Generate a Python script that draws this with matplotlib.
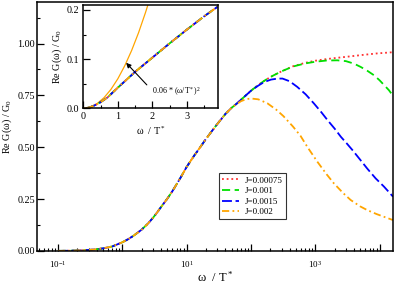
import matplotlib
matplotlib.use("Agg")
import matplotlib.pyplot as plt
from matplotlib.ticker import FixedLocator, FuncFormatter, LogLocator, MultipleLocator, NullFormatter
import numpy as np

plt.rcParams['font.family'] = ['Liberation Serif', 'DejaVu Serif']
plt.rcParams['mathtext.fontset'] = 'custom'
plt.rcParams['mathtext.rm'] = 'Liberation Serif'
plt.rcParams['mathtext.it'] = 'Liberation Serif:italic'
plt.rcParams['mathtext.default'] = 'rm'

# ---------------- data ----------------
w_common = [0.1, 0.15, 0.2, 0.3, 0.4, 0.5, 0.7, 1.0, 1.25, 1.5, 2.0, 2.5, 3.0, 3.5,
            4.0, 5.0, 6.0, 8.0, 10, 13, 16, 20, 25, 30, 40, 50]
g_common = [0.0006, 0.0013, 0.0024, 0.005, 0.0085, 0.0125, 0.022, 0.042, 0.058, 0.074,
            0.103, 0.132, 0.16, 0.187, 0.212, 0.252, 0.288, 0.352, 0.405, 0.458, 0.497,
            0.54, 0.58, 0.612, 0.66, 0.69]

w_red = [60, 80, 100, 130, 170, 220, 300, 450, 700, 1000, 1500, 2200, 3500, 5500, 9000, 16200]
g_red = [0.71, 0.745, 0.772, 0.80, 0.825, 0.845, 0.866, 0.89, 0.907, 0.917, 0.925, 0.931,
         0.938, 0.945, 0.952, 0.958]

w_green = [60, 80, 100, 130, 170, 220, 300, 450, 700, 1000, 1500, 2200, 3000, 4000, 5100,
           6500, 8200, 10000, 12000, 14000, 16200]
g_green = [0.71, 0.745, 0.772, 0.80, 0.825, 0.845, 0.866, 0.889, 0.904, 0.912, 0.918, 0.919,
           0.915, 0.903, 0.887, 0.868, 0.847, 0.823, 0.797, 0.775, 0.748]

w_blue = [60, 80, 100, 130, 160, 205, 260, 310, 400, 525, 710, 955, 1250, 1550, 2000, 2510,
          3100, 3800, 5000, 6450, 8700, 11750, 16200]
g_blue = [0.71, 0.745, 0.772, 0.797, 0.814, 0.826, 0.831, 0.831, 0.818, 0.791, 0.755, 0.711,
          0.668, 0.631, 0.59, 0.55, 0.518, 0.486, 0.44, 0.397, 0.35, 0.31, 0.262]

w_orange = [55, 70, 85, 100, 130, 180, 250, 320, 450, 590, 760, 1080, 1500, 1950, 2700,
            3550, 5000, 6450, 9000, 11700, 16200]
g_orange = [0.70, 0.722, 0.732, 0.735, 0.731, 0.712, 0.68, 0.65, 0.60, 0.555, 0.50, 0.43,
            0.37, 0.326, 0.28, 0.246, 0.215, 0.197, 0.178, 0.165, 0.149]

labels = ['J=0.00075', 'J=0.001', 'J=0.0015', 'J=0.002']

# low-frequency reference curve 0.06*(w/T*)^2
w_fit = [0.0, 0.2, 0.4, 0.6, 0.8, 1.0, 1.2, 1.4, 1.6, 1.8, 1.9]
g_fit = [0.0, 0.0024, 0.0096, 0.0216, 0.0384, 0.06, 0.0864, 0.1176, 0.1536, 0.1944, 0.2166]

# ---------------- figure ----------------
fig = plt.figure(figsize=(3.95, 2.86), dpi=100)
ax = fig.add_axes([37/395, 1-251/286, 356/395, 249/286])

series = [
    (w_red, g_red, dict(color='#ff3030', ls=(0, (1.0, 1.6)), lw=1.3)),
    (w_green, g_green, dict(color='#00e000', ls=(0, (4.5, 2.5)), lw=1.3)),
    (w_blue, g_blue, dict(color='#0000ff', ls=(0, (5.5, 2.0)), lw=1.3)),
    (w_orange, g_orange, dict(color='#ffa500', ls=(0, (4.0, 1.8, 1.0, 1.8)), lw=1.3)),
]

for (w, g, st), lab in zip(series, labels):
    ax.plot(w_common + w, g_common + g, label=lab, **st)

ax.set_xscale('log')
ax.set_xlim(0.0471, 16200)
ax.set_ylim(0, 1.2)

ax.xaxis.set_major_locator(FixedLocator([0.1, 1, 10, 100, 1000, 10000]))
def xfmt(v, pos):
    e = int(round(np.log10(v)))
    if e in (-1, 1, 3):
        return r'$10^{%d}$' % e
    return ''
ax.xaxis.set_major_formatter(FuncFormatter(xfmt))
ax.xaxis.set_minor_locator(LogLocator(base=10, subs=np.arange(2, 10), numticks=20))
ax.xaxis.set_minor_formatter(NullFormatter())
ax.yaxis.set_major_locator(MultipleLocator(0.25))
ax.yaxis.set_minor_locator(MultipleLocator(0.125))
ax.yaxis.set_major_formatter(FuncFormatter(lambda v, p: '%.2f' % v))

ax.tick_params(which='major', direction='in', length=5, width=0.9, top=False, right=False)
ax.tick_params(which='minor', direction='in', length=2.5, width=0.8, top=False, right=False)
ax.tick_params(axis='y', labelsize=7.3, pad=1.5)
ax.tick_params(axis='x', labelsize=6.5, pad=6)
for s in ax.spines.values():
    s.set_linewidth(1.1)

ax.set_ylabel('Re G(ω) / G$_0$', fontsize=7.3, labelpad=2.5)
ax.set_xlabel('ω  / T$^*$', fontsize=9, labelpad=0)

leg = ax.legend(loc='upper left', bbox_to_anchor=(0.511, 0.313), borderaxespad=0,
                fontsize=6.5, frameon=True, fancybox=False, edgecolor='black',
                handlelength=1.9, handletextpad=0.6, borderpad=0.35, labelspacing=0.25)
leg.get_frame().set_linewidth(0.8)

# ---------------- inset ----------------
axi = fig.add_axes([83.3/395, 1-108.3/286, 135/395, 103.3/286])
axi.plot(w_fit, g_fit, color='#ffa500', lw=0.9)
for (w, g, st), lab in zip(series, labels):
    axi.plot(w_common + w, g_common + g, **st)
axi.set_xlim(0, 3.91)
axi.set_ylim(0, 0.21)
axi.xaxis.set_major_locator(MultipleLocator(1))
axi.xaxis.set_minor_locator(MultipleLocator(0.5))
axi.yaxis.set_major_locator(MultipleLocator(0.1))
axi.yaxis.set_minor_locator(MultipleLocator(0.05))
axi.yaxis.set_major_formatter(FuncFormatter(lambda v, p: '%.1f' % v))
axi.tick_params(which='major', direction='in', length=5, width=0.9, labelsize=7.3, pad=3)
axi.tick_params(which='minor', direction='in', length=2.5, width=0.8)
for s in axi.spines.values():
    s.set_linewidth(1.1)
axi.set_ylabel('Re G(ω) / G$_0$', fontsize=7.3, labelpad=2)
axi.set_xlabel('ω  / T$^*$', fontsize=7.3, labelpad=2)

axi.annotate('', xy=(1.24, 0.0925), xytext=(1.84, 0.0476),
             arrowprops=dict(arrowstyle='-|>', color='black', lw=0.8, mutation_scale=7,
                             shrinkA=0, shrinkB=0))
axi.text(1.99, 0.034, '0.06 * (ω/T$^*$)$^2$', fontsize=5.8, va='center', ha='left')

fig.savefig('out.png', dpi=100)
